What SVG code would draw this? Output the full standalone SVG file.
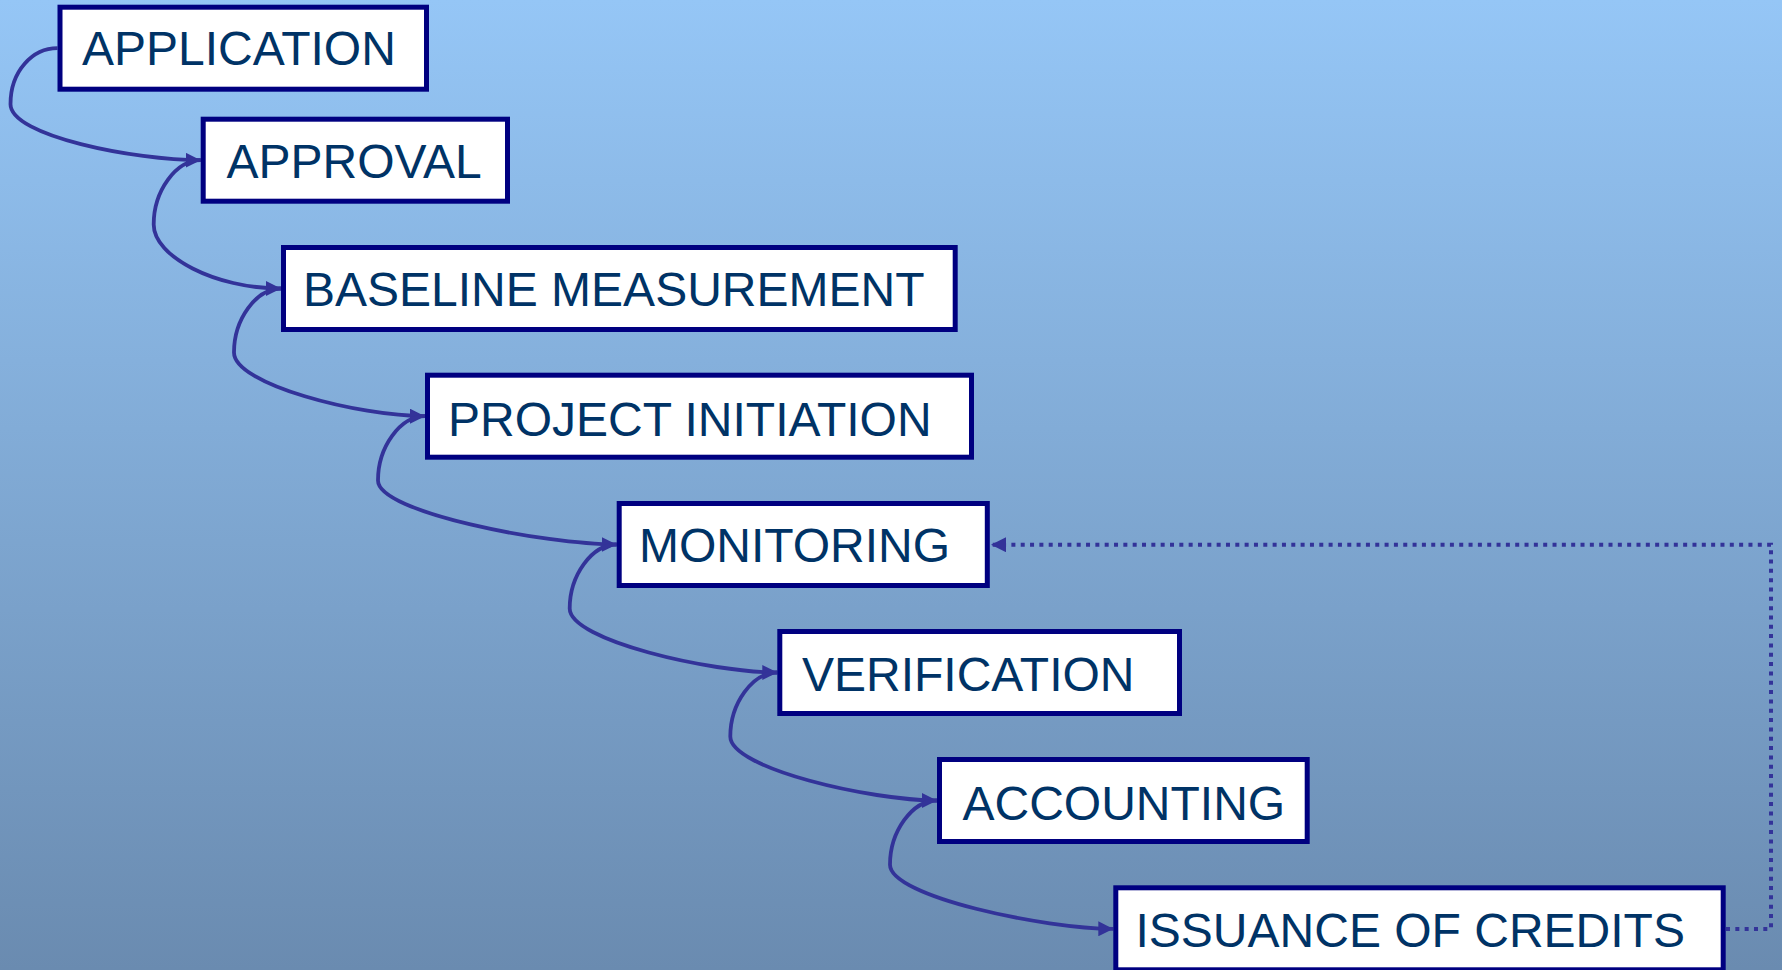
<svg xmlns="http://www.w3.org/2000/svg" width="1782" height="970" viewBox="0 0 1782 970">
<defs>
<linearGradient id="bg" x1="0" y1="0" x2="0" y2="1">
<stop offset="0" stop-color="#95c6f6"/>
<stop offset="1" stop-color="#6a8bb0"/>
</linearGradient>
<marker id="arr" viewBox="0 0 15 15" refX="15" refY="7.5" markerWidth="15" markerHeight="15" markerUnits="userSpaceOnUse" orient="auto">
<path d="M0,0 L15,7.5 L0,15 Z" fill="#333399" stroke="none"/>
</marker>
<style>
.box{fill:#ffffff;stroke:#000080;stroke-width:5}
.lbl{font-family:"Liberation Sans",Arial,sans-serif;font-size:48px;fill:#003366}
.con{fill:none;stroke:#333399;stroke-width:3.8}
.dot{fill:none;stroke:#333399;stroke-width:4;stroke-dasharray:4 5.33}
</style>
</defs>
<rect x="0" y="0" width="1782" height="970" fill="url(#bg)"/>
<g id="connectors">
<path class="con" marker-end="url(#arr)" d="M57.5,48.2 C32.5,48.2 10.5,71 10.5,104.2 C10.5,136 134.7,160.2 200.7,160.2"/>
<path class="con" marker-end="url(#arr)" d="M200.7,160.2 C175.7,160.2 153.7,191.4 153.7,224.4 C153.7,256.4 215,288.5 281,288.5"/>
<path class="con" marker-end="url(#arr)" d="M281,288.5 C256,288.5 234,319.4 234,352.4 C234,384.4 359,416.2 425,416.2"/>
<path class="con" marker-end="url(#arr)" d="M425,416.2 C400,416.2 378,447.4 378,480.4 C378,512.4 545,544.5 616.7,544.5"/>
<path class="con" marker-end="url(#arr)" d="M616.7,544.5 C591.7,544.5 569.7,575.5 569.7,608.5 C569.7,640.5 711.3,672.5 777.3,672.5"/>
<path class="con" marker-end="url(#arr)" d="M777.3,672.5 C752.3,672.5 730.3,703.5 730.3,736.5 C730.3,768.5 871,800.5 937,800.5"/>
<path class="con" marker-end="url(#arr)" d="M937,800.5 C912,800.5 890,831.7 890,864.7 C890,896.7 1045,928.8 1113.3,928.8"/>
<path class="dot" marker-end="url(#arr)" d="M1726,929 H1771 V544.7 H991"/>
</g>
<g id="application"><rect class="box" x="60" y="7.2" width="366.5" height="82"/><text class="lbl" x="82" y="65.2">APPLICATION</text></g>
<g id="approval"><rect class="box" x="203.2" y="119.2" width="304.3" height="82"/><text class="lbl" x="226.5" y="178.2">APPROVAL</text></g>
<g id="baseline"><rect class="box" x="283.5" y="247.5" width="671.7" height="82"/><text class="lbl" x="303" y="305.5">BASELINE MEASUREMENT</text></g>
<g id="project"><rect class="box" x="427.5" y="375.2" width="544" height="82"/><text class="lbl" x="448" y="435.5">PROJECT INITIATION</text></g>
<g id="monitoring"><rect class="box" x="619.2" y="503.5" width="368.1" height="82"/><text class="lbl" x="639" y="562.2">MONITORING</text></g>
<g id="verification"><rect class="box" x="779.8" y="631.5" width="399.7" height="82"/><text class="lbl" x="802" y="690.5">VERIFICATION</text></g>
<g id="accounting"><rect class="box" x="939.5" y="759.5" width="367.7" height="82"/><text class="lbl" x="962.5" y="819.5">ACCOUNTING</text></g>
<g id="issuance"><rect class="box" x="1115.8" y="887.8" width="607.4" height="82"/><text class="lbl" x="1135.5" y="947.2">ISSUANCE OF CREDITS</text></g>
</svg>
